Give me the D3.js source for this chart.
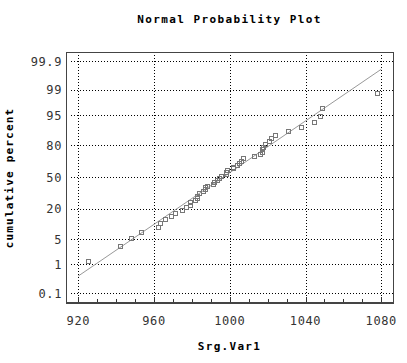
<!DOCTYPE html>
<html>
<head>
<meta charset="utf-8">
<script src="https://cdn.jsdelivr.net/npm/d3@7"></script>
<style>
  body { margin: 0; background: #fff; }
  text { font-family: "DejaVu Sans Mono", monospace; }
</style>
</head>
<body>
<svg width="407" height="363"></svg>
<script>
"use strict";

// Srg.Var1 sample values, sorted
const values = [
  925.3, 942.2, 948.0, 953.3, 962.2, 963.3, 965.9, 969.1, 971.2, 974.9,
  977.0, 979.1, 979.1, 981.8, 982.8, 982.8, 983.9, 986.0, 987.1, 987.1,
  988.1, 990.9, 991.9, 993.2, 994.3, 995.3, 998.1, 998.1, 998.7, 1001.8,
  1001.8, 1003.9, 1005.0, 1006.1, 1007.1, 1012.9, 1016.1, 1017.1, 1017.1, 1017.7,
  1018.7, 1020.8, 1021.9, 1024.0, 1030.9, 1037.7, 1044.6, 1047.8, 1048.8, 1077.9
];

const xTicks = [920, 960, 1000, 1040, 1080];
const xMinorTicks = d3.range(920, 1081, 10);
const yTicks = [0.1, 1, 5, 20, 50, 80, 95, 99, 99.9];

const title = 'Normal Probability Plot';
const xLabel = 'Srg.Var1';
const yLabel = 'cumulative percent';

// inverse normal CDF (Acklam)
function qnorm(p) {
    const a = [-39.69683028665376, 220.9460984245205, -275.9285104469687, 138.3577518672690, -30.66479806614716, 2.506628277459239],
        b = [-54.47609879822406, 161.5858368580409, -155.6989798598866, 66.80131188771972, -13.28068155288572],
        c = [-0.007784894002430293, -0.3223964580411365, -2.400758277161838, -2.549732539343734, 4.374664141464968, 2.938163982698783],
        d = [0.007784695709041462, 0.3224671290700398, 2.445134137142996, 3.754408661907416];
    const pl = 0.02425;
    let q, r;
    if (p < pl) {
        q = Math.sqrt(-2 * Math.log(p));
        return (((((c[0]*q+c[1])*q+c[2])*q+c[3])*q+c[4])*q+c[5]) / ((((d[0]*q+d[1])*q+d[2])*q+d[3])*q+1);
    } else if (p <= 1 - pl) {
        q = p - 0.5; r = q * q;
        return (((((a[0]*r+a[1])*r+a[2])*r+a[3])*r+a[4])*r+a[5])*q / (((((b[0]*r+b[1])*r+b[2])*r+b[3])*r+b[4])*r+1);
    }
    q = Math.sqrt(-2 * Math.log(1 - p));
    return -(((((c[0]*q+c[1])*q+c[2])*q+c[3])*q+c[4])*q+c[5]) / ((((d[0]*q+d[1])*q+d[2])*q+d[3])*q+1);
}

const n = values.length;
const points = values.map((v, i) => ({ v: v, z: qnorm((i + 1 - 0.375) / (n + 0.25)) }));
const mean = d3.mean(values), sd = d3.deviation(values);

const svg = d3.select('svg');
const margin = {top: 52, right: 14, bottom: 61, left: 66},
    width = +svg.attr('width') - margin.left - margin.right,
    height = +svg.attr('height') - margin.top - margin.bottom,
    g = svg.append('g').attr('transform', `translate(${margin.left},${margin.top})`);

const x = d3.scaleLinear().domain([913.5, 1086.2]).range([0, width]);
const y = d3.scaleLinear().domain([-3.324, 3.324]).range([height, 0]);

// grid
g.append('g').selectAll('line')
    .data(xTicks)
    .enter().append('line')
    .attr('x1', d => Math.round(x(d)) + 0.5).attr('x2', d => Math.round(x(d)) + 0.5)
    .attr('y1', 0).attr('y2', height)
    .attr('stroke', '#000').attr('stroke-dasharray', '1,2');

g.append('g').selectAll('line')
    .data(yTicks)
    .enter().append('line')
    .attr('x1', 5).attr('x2', width)
    .attr('y1', d => Math.round(y(qnorm(d / 100))) + 0.5)
    .attr('y2', d => Math.round(y(qnorm(d / 100))) + 0.5)
    .attr('stroke', '#000').attr('stroke-dasharray', '1,2');

// bottom ticks (inside)
g.append('g').selectAll('line')
    .data(xMinorTicks)
    .enter().append('line')
    .attr('x1', d => Math.round(x(d)) + 0.5).attr('x2', d => Math.round(x(d)) + 0.5)
    .attr('y1', height)
    .attr('y2', d => xTicks.includes(d) ? height - 5 : height - 3)
    .attr('stroke', '#333');

// frame
g.append('rect')
    .attr('x', 0.5).attr('y', 0.5)
    .attr('width', width).attr('height', height)
    .attr('fill', 'none').attr('stroke', '#444');

g.append('line')
    .attr('x1', 0).attr('x2', width + 1)
    .attr('y1', height + 1.5).attr('y2', height + 1.5)
    .attr('stroke', '#444');

// tick labels
g.append('g').selectAll('text')
    .data(xTicks)
    .enter().append('text')
    .attr('x', d => x(d))
    .attr('y', height + 23)
    .attr('text-anchor', 'middle')
    .attr('font-size', '12px')
    .attr('letter-spacing', '0.6px')
    .attr('fill', '#333')
    .text(d => d);

g.append('g').selectAll('text')
    .data(yTicks)
    .enter().append('text')
    .attr('x', -4)
    .attr('y', d => y(qnorm(d / 100)))
    .attr('dy', '0.4em')
    .attr('text-anchor', 'end')
    .attr('font-size', '12px')
    .attr('letter-spacing', '0.6px')
    .attr('fill', '#333')
    .text(d => d);

// fitted normal line
const line = d3.line()
    .x(d => x(d))
    .y(d => y((d - mean) / sd));

g.append('path')
    .datum([xTicks[0], xTicks[xTicks.length - 1]])
    .attr('d', line)
    .attr('fill', 'none')
    .attr('stroke', '#999');

// points
g.append('g').selectAll('rect')
    .data(points)
    .enter().append('rect')
    .attr('x', d => Math.round(x(d.v)) - 1.5)
    .attr('y', d => Math.round(y(d.z)) - 1.5)
    .attr('width', 4).attr('height', 4)
    .attr('fill', 'none')
    .attr('stroke', '#777');

// titles
svg.append('text')
    .attr('x', margin.left + width / 2)
    .attr('y', 23)
    .attr('text-anchor', 'middle')
    .attr('font-size', '11px')
    .attr('font-weight', 'bold')
    .attr('letter-spacing', '1.4px')
    .text(title);

svg.append('text')
    .attr('x', margin.left + width / 2)
    .attr('y', 350)
    .attr('text-anchor', 'middle')
    .attr('font-size', '11px')
    .attr('font-weight', 'bold')
    .attr('letter-spacing', '1.3px')
    .text(xLabel);

svg.append('text')
    .attr('transform', 'translate(13,178) rotate(-90)')
    .attr('text-anchor', 'middle')
    .attr('font-size', '11px')
    .attr('font-weight', 'bold')
    .attr('letter-spacing', '1.2px')
    .text(yLabel);
</script>
</body>
</html>
